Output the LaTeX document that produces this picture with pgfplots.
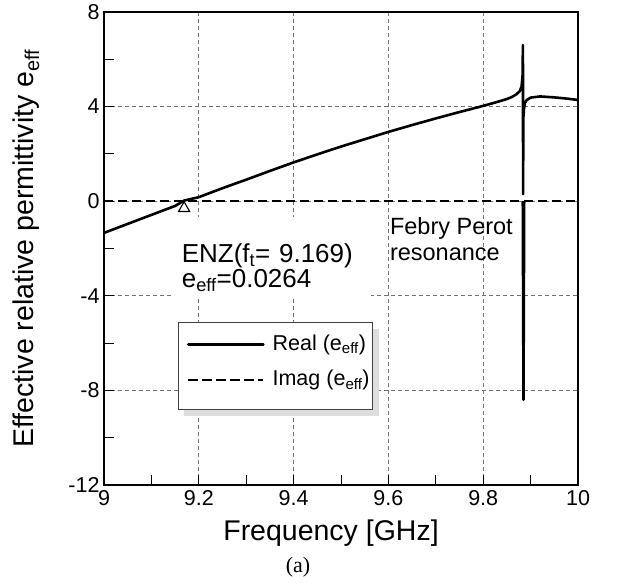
\documentclass[border=0pt]{standalone}
\usepackage{fontspec}
\setmainfont{Liberation Sans}
\newfontfamily\serifa{Liberation Serif}
\usepackage{pgfplots}
\usepackage{pgfplotstable}
\pgfplotsset{compat=1.18}

\pgfplotstableread{
x y
9.000 -1.34
9.050 -0.96
9.100 -0.58
9.150 -0.20
9.169 0.026
9.200 0.17
9.250 0.55
9.300 0.91
9.350 1.28
9.400 1.64
9.450 1.98
9.500 2.31
9.550 2.62
9.600 2.93
9.650 3.22
9.700 3.50
9.750 3.77
9.800 4.03
9.830 4.20
9.850 4.32
9.860 4.40
9.870 4.52
9.877 4.65
9.881 4.85
9.8830 5.30
9.8838 6.60
9.8842 0.30
9.8846 3.50
9.8860 3.90
9.8880 4.15
9.8920 4.28
9.9000 4.38
9.9200 4.43
9.9500 4.39
9.9800 4.33
10.000 4.28
}\realdata

\pgfplotstableread{
x y
9.000 0
9.8835 0
9.8865 0
10.000 0
}\imagdata

\pgfplotstableread{
x y
9.8835 0
9.8850 -8.40
9.8865 0
}\imagdip

\begin{document}
\begin{tikzpicture}
\begin{axis}[
  scale only axis,
  width=474pt, height=473pt,
  xmin=9, xmax=10, ymin=-12, ymax=8,
  xtick={9,9.2,9.4,9.6,9.8,10},
  xticklabels={9,9.2,9.4,9.6,9.8,10},
  ytick={-12,-8,-4,0,4,8},
  yticklabels={-12,-8,-4,0,4,8},
  minor xtick={9.1,9.3,9.5,9.7,9.9},
  minor ytick={-10,-6,-2,2,6},
  xtick pos=bottom, ytick pos=left,
  tick align=inside,
  major tick length=10pt, minor tick length=10pt,
  every tick/.style={black, line width=1pt},
  grid=major,
  major grid style={black!55, dash pattern=on 4pt off 3pt, line width=0.7pt},
  axis line style={line width=1.4pt},
  ticklabel style={font=\fontsize{21.5}{25}\selectfont},
  xticklabel style={yshift=-2pt},
  yticklabel style={xshift=-1pt},
  every axis x label/.style={at={(axis description cs:0.479,-0.1178)}, anchor=base},
  every axis y label/.style={at={(axis description cs:-0.1646,0.5)}, rotate=90, anchor=center},
  label style={font=\fontsize{28.5}{32}\selectfont},
  xlabel={Frequency [GHz]},
  ylabel={Effective relative permittivity e\textsubscript{eff}},
  legend cell align=left,
  legend style={at={(axis cs:9.1745,-5.48)}, anchor=north west,
    draw=none, fill=none, inner sep=0pt, row sep=8.5pt,
    font=\fontsize{21.5}{26}\selectfont,
    nodes={inner xsep=0pt, inner ysep=3pt, text height=16pt, text depth=5pt}},
]
\fill[black!13] (axis cs:9.1697,-5.416) rectangle (axis cs:9.5794,-9.096);
\filldraw[fill=white, draw=black!75, line width=1pt] (axis cs:9.157,-5.12) rectangle (axis cs:9.5667,-8.80);
\addplot[black, line width=2.6pt, line join=round, line cap=round,
  legend image code/.code={\draw[black, line width=2.8pt] (0pt,0pt) -- (75pt,0pt); \path (83pt,0pt);}]
  table[x=x,y=y] {\realdata};
\addlegendentry{Real (e\textsubscript{eff})}
\addplot[black, line width=2.6pt, dash pattern=on 9pt off 5pt,
  legend image code/.code={\draw[black, line width=2.8pt, dash pattern=on 10pt off 4pt] (0pt,0pt) -- (75pt,0pt); \path (83pt,0pt);}]
  table[x=x,y=y] {\imagdata};
\addlegendentry{Imag (e\textsubscript{eff})}
\addplot[black, line width=2.6pt, line join=round, forget plot] table[x=x,y=y] {\imagdip};
\addplot[only marks, mark=triangle, mark size=6.5pt, mark options={fill=white, draw=black, line width=1.1pt, solid}, forget plot] coordinates {(9.169,-0.3)};

\node[fill=white, anchor=north west, inner xsep=8.4pt, inner ysep=0pt, text width=181pt, align=left,
  font=\fontsize{26}{25}\selectfont] at (axis cs:9.146,-0.65)
  {\rule{0pt}{45.5pt}ENZ(f\textsubscript{t}= 9.169)\\e\textsubscript{eff}=0.0264\rule[-10pt]{0pt}{10pt}};
\node[anchor=base west, inner sep=0pt, font=\fontsize{23.5}{26}\selectfont] at (axis cs:9.603,-1.40) {Febry Perot};
\node[anchor=base west, inner sep=0pt, font=\fontsize{23.5}{26}\selectfont] at (axis cs:9.603,-2.51) {resonance};
\end{axis}
\node[font=\serifa\fontsize{22}{25}\selectfont] at ([xshift=194pt,yshift=-82pt]current axis.south west) {(a)};
\pgfresetboundingbox
\path ([xshift=-104pt,yshift=-101pt]current axis.south west) rectangle ([xshift=40pt,yshift=12pt]current axis.north east);
\end{tikzpicture}
\end{document}
